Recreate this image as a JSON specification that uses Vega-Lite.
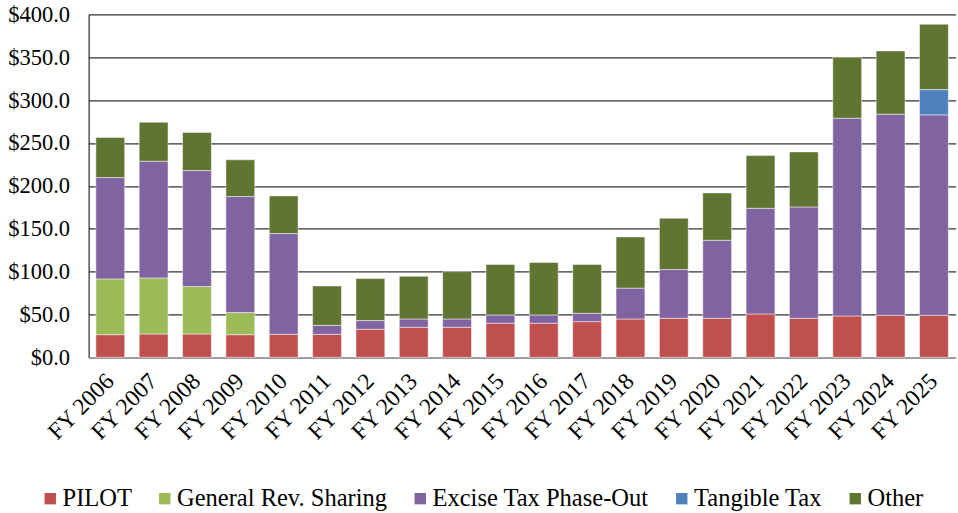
{
  "$schema": "https://vega.github.io/schema/vega-lite/v6.json",
  "width": 867,
  "height": 343,
  "autosize": "none",
  "padding": {"left": 88.6, "top": 14.3, "right": 2.4, "bottom": 155.7},
  "background": "white",
  "data": {
    "values": [
      {"year": "FY 2006", "series": "PILOT", "value": 26.4},
      {"year": "FY 2006", "series": "General Rev. Sharing", "value": 65.0},
      {"year": "FY 2006", "series": "Excise Tax Phase-Out", "value": 118.2},
      {"year": "FY 2006", "series": "Other", "value": 46.7},
      {"year": "FY 2007", "series": "PILOT", "value": 27.2},
      {"year": "FY 2007", "series": "General Rev. Sharing", "value": 65.4},
      {"year": "FY 2007", "series": "Excise Tax Phase-Out", "value": 136.1},
      {"year": "FY 2007", "series": "Other", "value": 45.5},
      {"year": "FY 2008", "series": "PILOT", "value": 27.2},
      {"year": "FY 2008", "series": "General Rev. Sharing", "value": 55.3},
      {"year": "FY 2008", "series": "Excise Tax Phase-Out", "value": 135.3},
      {"year": "FY 2008", "series": "Other", "value": 44.4},
      {"year": "FY 2009", "series": "PILOT", "value": 26.4},
      {"year": "FY 2009", "series": "General Rev. Sharing", "value": 25.7},
      {"year": "FY 2009", "series": "Excise Tax Phase-Out", "value": 135.4},
      {"year": "FY 2009", "series": "Other", "value": 42.8},
      {"year": "FY 2010", "series": "PILOT", "value": 26.8},
      {"year": "FY 2010", "series": "Excise Tax Phase-Out", "value": 117.5},
      {"year": "FY 2010", "series": "Other", "value": 43.9},
      {"year": "FY 2011", "series": "PILOT", "value": 26.8},
      {"year": "FY 2011", "series": "Excise Tax Phase-Out", "value": 10.5},
      {"year": "FY 2011", "series": "Other", "value": 45.9},
      {"year": "FY 2012", "series": "PILOT", "value": 32.7},
      {"year": "FY 2012", "series": "Excise Tax Phase-Out", "value": 10.1},
      {"year": "FY 2012", "series": "Other", "value": 49.0},
      {"year": "FY 2013", "series": "PILOT", "value": 35.0},
      {"year": "FY 2013", "series": "Excise Tax Phase-Out", "value": 9.7},
      {"year": "FY 2013", "series": "Other", "value": 49.8},
      {"year": "FY 2014", "series": "PILOT", "value": 35.0},
      {"year": "FY 2014", "series": "Excise Tax Phase-Out", "value": 9.7},
      {"year": "FY 2014", "series": "Other", "value": 55.2},
      {"year": "FY 2015", "series": "PILOT", "value": 39.7},
      {"year": "FY 2015", "series": "Excise Tax Phase-Out", "value": 9.7},
      {"year": "FY 2015", "series": "Other", "value": 58.7},
      {"year": "FY 2016", "series": "PILOT", "value": 39.7},
      {"year": "FY 2016", "series": "Excise Tax Phase-Out", "value": 9.7},
      {"year": "FY 2016", "series": "Other", "value": 61.1},
      {"year": "FY 2017", "series": "PILOT", "value": 41.6},
      {"year": "FY 2017", "series": "Excise Tax Phase-Out", "value": 9.7},
      {"year": "FY 2017", "series": "Other", "value": 56.8},
      {"year": "FY 2018", "series": "PILOT", "value": 44.7},
      {"year": "FY 2018", "series": "Excise Tax Phase-Out", "value": 36.0},
      {"year": "FY 2018", "series": "Other", "value": 59.7},
      {"year": "FY 2019", "series": "PILOT", "value": 45.5},
      {"year": "FY 2019", "series": "Excise Tax Phase-Out", "value": 56.8},
      {"year": "FY 2019", "series": "Other", "value": 59.9},
      {"year": "FY 2020", "series": "PILOT", "value": 45.5},
      {"year": "FY 2020", "series": "Excise Tax Phase-Out", "value": 91.0},
      {"year": "FY 2020", "series": "Other", "value": 55.2},
      {"year": "FY 2021", "series": "PILOT", "value": 50.6},
      {"year": "FY 2021", "series": "Excise Tax Phase-Out", "value": 123.2},
      {"year": "FY 2021", "series": "Other", "value": 61.4},
      {"year": "FY 2022", "series": "PILOT", "value": 45.5},
      {"year": "FY 2022", "series": "Excise Tax Phase-Out", "value": 129.8},
      {"year": "FY 2022", "series": "Other", "value": 64.2},
      {"year": "FY 2023", "series": "PILOT", "value": 48.2},
      {"year": "FY 2023", "series": "Excise Tax Phase-Out", "value": 230.6},
      {"year": "FY 2023", "series": "Other", "value": 71.1},
      {"year": "FY 2024", "series": "PILOT", "value": 49.0},
      {"year": "FY 2024", "series": "Excise Tax Phase-Out", "value": 234.5},
      {"year": "FY 2024", "series": "Other", "value": 73.8},
      {"year": "FY 2025", "series": "PILOT", "value": 49.0},
      {"year": "FY 2025", "series": "Excise Tax Phase-Out", "value": 233.7},
      {"year": "FY 2025", "series": "Tangible Tax", "value": 29.5},
      {"year": "FY 2025", "series": "Other", "value": 76.2}
    ]
  },
  "transform": [
    {"calculate": "indexof(['PILOT','General Rev. Sharing','Excise Tax Phase-Out','Tangible Tax','Other'], datum.series)", "as": "stackOrder"}
  ],
  "mark": {"type": "bar", "stroke": "#ffffff", "strokeWidth": 0.8, "strokeOpacity": 0.6},
  "encoding": {
    "x": {
      "field": "year",
      "type": "nominal",
      "sort": null,
      "scale": {"paddingInner": 0.335, "paddingOuter": 0.1675},
      "axis": {
        "title": null,
        "labelAngle": -45,
        "labelAlign": "right",
        "labelBaseline": "middle",
        "labelFont": "Liberation Serif",
        "labelFontSize": 23.5,
        "labelColor": "#000000",
        "labelPadding": 20,
        "ticks": false,
        "domainColor": "#a0a0a0",
        "domainWidth": 1.5
      }
    },
    "y": {
      "field": "value",
      "type": "quantitative",
      "aggregate": "sum",
      "stack": "zero",
      "scale": {"domain": [0, 400], "nice": false},
      "axis": {
        "title": null,
        "values": [0, 50, 100, 150, 200, 250, 300, 350, 400],
        "format": "$.1f",
        "labelFont": "Liberation Serif",
        "labelFontSize": 22.5,
        "labelColor": "#000000",
        "labelPadding": 19,
        "ticks": false,
        "domainColor": "#000000",
        "domainWidth": 1,
        "gridColor": "#333333",
        "gridWidth": 1.3
      }
    },
    "color": {
      "field": "series",
      "type": "nominal",
      "scale": {
        "domain": ["PILOT", "General Rev. Sharing", "Excise Tax Phase-Out", "Tangible Tax", "Other"],
        "range": ["#C0504D", "#9BBB59", "#8064A2", "#4F81BD", "#617532"]
      },
      "legend": {
        "title": null,
        "orient": "none",
        "direction": "horizontal",
        "legendX": -50.6,
        "legendY": 472,
        "symbolType": "square",
        "symbolSize": 130,
        "symbolStrokeWidth": 0,
        "labelFont": "Liberation Serif",
        "labelFontSize": 24.5,
        "labelColor": "#000000",
        "labelOffset": 0,
        "columnPadding": 20.5,
        "labelLimit": 400
      }
    },
    "order": {"field": "stackOrder", "type": "quantitative"}
  },
  "config": {
    "view": {"stroke": null}
  }
}
